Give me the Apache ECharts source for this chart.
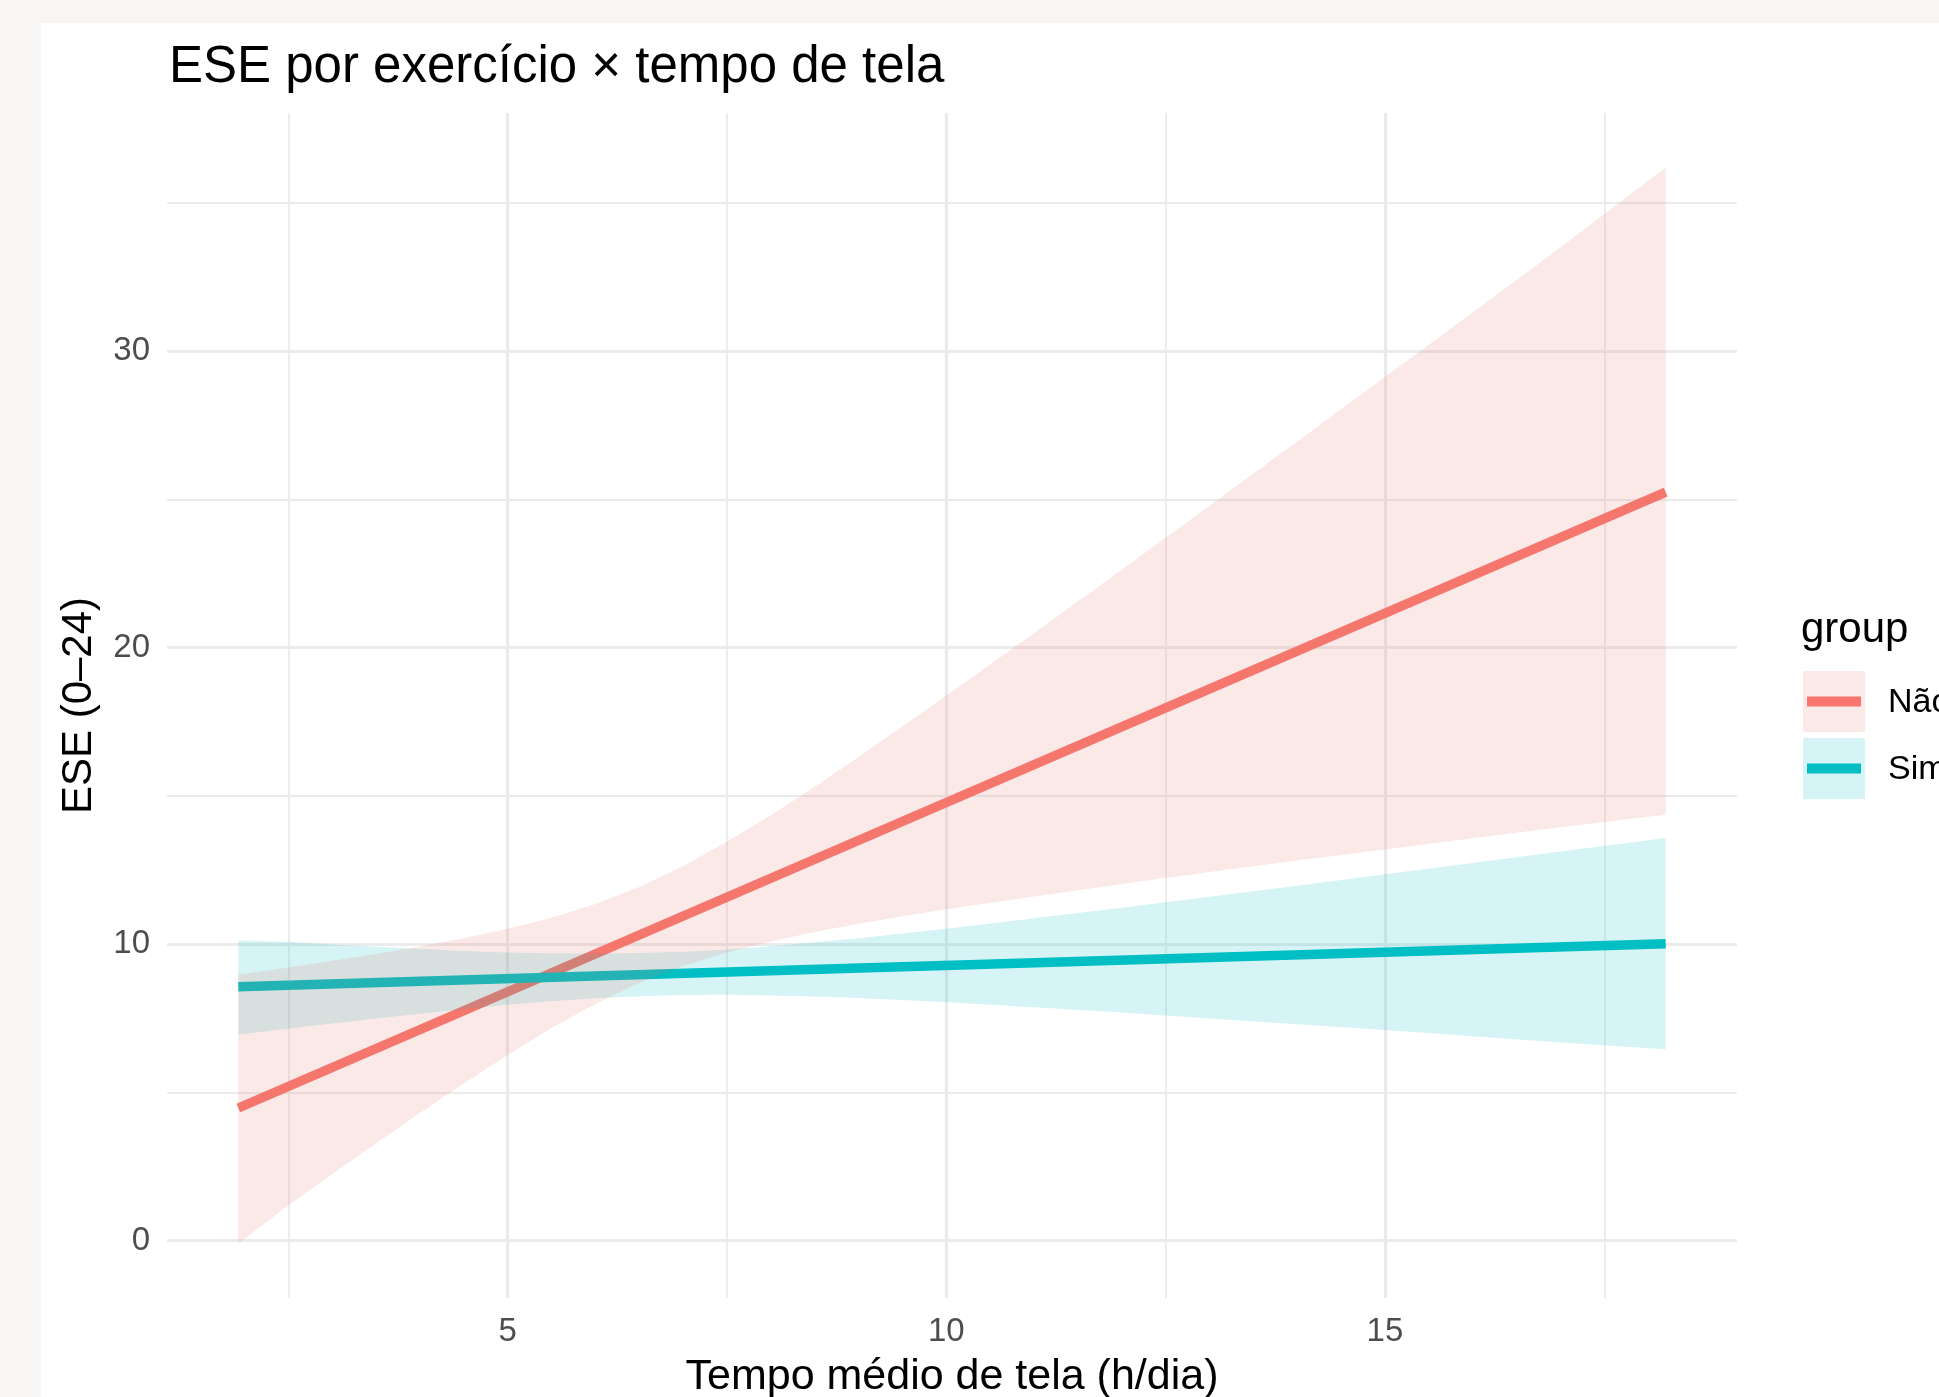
<!DOCTYPE html>
<html>
<head>
<meta charset="utf-8">
<script src="https://cdn.jsdelivr.net/npm/echarts@6/dist/echarts.min.js"></script>
<style>
html,body{margin:0;padding:0;background:#f8f6f5;overflow:hidden;}
#bg{position:absolute;left:41px;top:23px;right:0;bottom:0;background:#ffffff;}
#chart{position:absolute;left:0;top:0;width:1939px;height:1397px;}
</style>
</head>
<body>
<div id="bg"></div>
<div id="chart"></div>
<script>
// ---- data ----
const bandX = [1.93, 2.5, 3, 3.5, 4, 4.5, 5, 5.5, 6, 6.5, 7, 7.5, 8, 8.5, 9, 9.5, 10, 11, 12, 13, 14, 15, 16, 17, 18.2];
const naoUpper = [8.97, 9.21, 9.44, 9.67, 9.92, 10.20, 10.52, 10.89, 11.35, 11.93, 12.63, 13.45, 14.35, 15.31, 16.31, 17.34, 18.38, 20.49, 22.63, 24.79, 26.96, 29.13, 31.31, 33.50, 36.20];
const naoLower = [-0.10, 1.18, 2.24, 3.28, 4.30, 5.30, 6.26, 7.17, 7.98, 8.69, 9.26, 9.72, 10.09, 10.41, 10.69, 10.94, 11.18, 11.61, 12.03, 12.43, 12.82, 13.19, 13.57, 13.94, 14.36];
const simUpper = [10.12, 10.08, 9.99, 9.91, 9.84, 9.77, 9.72, 9.69, 9.68, 9.70, 9.74, 9.82, 9.93, 10.06, 10.20, 10.36, 10.52, 10.87, 11.23, 11.60, 11.97, 12.36, 12.74, 13.12, 13.58];
const simLower = [6.95, 7.14, 7.32, 7.49, 7.65, 7.80, 7.95, 8.07, 8.17, 8.24, 8.28, 8.29, 8.27, 8.23, 8.18, 8.11, 8.04, 7.87, 7.69, 7.49, 7.30, 7.10, 6.89, 6.68, 6.45];
const lineX = [1.93, 18.2];
const naoFit = [4.47, 25.25];
const simFit = [8.56, 10.01];
const groups = ['Não', 'Sim'];
const xTicks = [5, 10, 15];
const xMinorTicks = [2.5, 7.5, 12.5, 17.5];
const yTicks = [0, 10, 20, 30];
const yMinorTicks = [5, 15, 25, 35];
const titleText = 'ESE por exercício × tempo de tela';
const xTitle = 'Tempo médio de tela (h/dia)';
const yTitle = 'ESE (0–24)';
const legendTitle = 'group';

// ---- styling ----
const RED = '#F8766D', TEAL = '#00BFC4';
const RED_FILL = 'rgba(226,118,106,0.16)', TEAL_FILL = 'rgba(0,188,194,0.16)';
const FONT = '"Liberation Sans", Arial, Helvetica, sans-serif';
const GRID = {left: 167, right: 202, top: 113, bottom: 99};

const chart = echarts.init(document.getElementById('chart'), null, {renderer: 'canvas'});

function bandSeries(name, upper, lower, fill, z) {
  return {
    type: 'custom', name: name, z: z, silent: true,
    data: [[bandX[0], upper[0]]],
    renderItem: function (params, api) {
      const pts = [];
      for (let i = 0; i < bandX.length; i++) pts.push(api.coord([bandX[i], upper[i]]));
      for (let i = bandX.length - 1; i >= 0; i--) pts.push(api.coord([bandX[i], lower[i]]));
      return {type: 'polygon', shape: {points: pts}, style: {fill: fill, stroke: null}};
    }
  };
}
function fitSeries(name, vals, color, z) {
  return {
    type: 'line', name: name, z: z, silent: true, showSymbol: false, symbol: 'none',
    data: lineX.map((x, i) => [x, vals[i]]),
    lineStyle: {color: color, width: 9.5, cap: 'butt'}
  };
}
const gridLines = [];
xTicks.forEach(v => gridLines.push({xAxis: v, lineStyle: {color: '#ebebeb', width: 3.2, type: 'solid'}}));
xMinorTicks.forEach(v => gridLines.push({xAxis: v, lineStyle: {color: '#ebebeb', width: 1.8, type: 'solid'}}));
yTicks.forEach(v => gridLines.push({yAxis: v, lineStyle: {color: '#ebebeb', width: 3.2, type: 'solid'}}));
yMinorTicks.forEach(v => gridLines.push({yAxis: v, lineStyle: {color: '#ebebeb', width: 1.8, type: 'solid'}}));

const option = {
  animation: false,
  backgroundColor: 'transparent',
  grid: GRID,
  xAxis: {
    type: 'value', min: 1.117, max: 19.013,
    axisLine: {show: false}, axisTick: {show: false}, splitLine: {show: false},
    axisLabel: {customValues: xTicks, color: '#4d4d4d', fontSize: 33, fontFamily: FONT, margin: 17.5}
  },
  yAxis: {
    type: 'value', min: -1.94, max: 38.04,
    axisLine: {show: false}, axisTick: {show: false}, splitLine: {show: false},
    axisLabel: {customValues: yTicks, color: '#4d4d4d', fontSize: 33, fontFamily: FONT, margin: 17}
  },
  series: [
    {
      type: 'line', name: 'grid', z: 1, silent: true, symbol: 'none',
      data: [[lineX[0], naoFit[0]]], lineStyle: {opacity: 0},
      markLine: {silent: true, symbol: ['none', 'none'], label: {show: false}, z: 1, animation: false, data: gridLines}
    },
    fitSeries(groups[0], naoFit, RED, 2),
    bandSeries(groups[1] + ' band', simUpper, simLower, TEAL_FILL, 3),
    fitSeries(groups[1], simFit, TEAL, 4),
    bandSeries(groups[0] + ' band', naoUpper, naoLower, RED_FILL, 5)
  ],
  graphic: [
    {type: 'text', style: {text: titleText, x: 169, y: 68, fontSize: 51, fontFamily: FONT, fill: '#000', align: 'left', verticalAlign: 'middle'}},
    {type: 'text', style: {text: xTitle, x: 952, y: 1377, fontSize: 43, fontFamily: FONT, fill: '#000', align: 'center', verticalAlign: 'middle'}},
    {type: 'text', x: 79.5, y: 705.5, rotation: Math.PI / 2, style: {text: yTitle, x: 0, y: 0, fontSize: 42, fontFamily: FONT, fill: '#000', align: 'center', verticalAlign: 'middle'}},
    {type: 'text', style: {text: legendTitle, x: 1801, y: 630, fontSize: 42, fontFamily: FONT, fill: '#000', align: 'left', verticalAlign: 'middle'}},
    {type: 'rect', shape: {x: 1803, y: 671, width: 62, height: 61}, style: {fill: RED_FILL}},
    {type: 'line', shape: {x1: 1807, y1: 701.5, x2: 1861, y2: 701.5}, style: {stroke: RED, lineWidth: 10}},
    {type: 'rect', shape: {x: 1803, y: 738, width: 62, height: 61}, style: {fill: TEAL_FILL}},
    {type: 'line', shape: {x1: 1807, y1: 768.5, x2: 1861, y2: 768.5}, style: {stroke: TEAL, lineWidth: 10}},
    {type: 'text', style: {text: groups[0], x: 1888, y: 703, fontSize: 34, fontFamily: FONT, fill: '#000', align: 'left', verticalAlign: 'middle'}},
    {type: 'text', style: {text: groups[1], x: 1888, y: 770, fontSize: 34, fontFamily: FONT, fill: '#000', align: 'left', verticalAlign: 'middle'}}
  ]
};
chart.setOption(option);
</script>
</body>
</html>
